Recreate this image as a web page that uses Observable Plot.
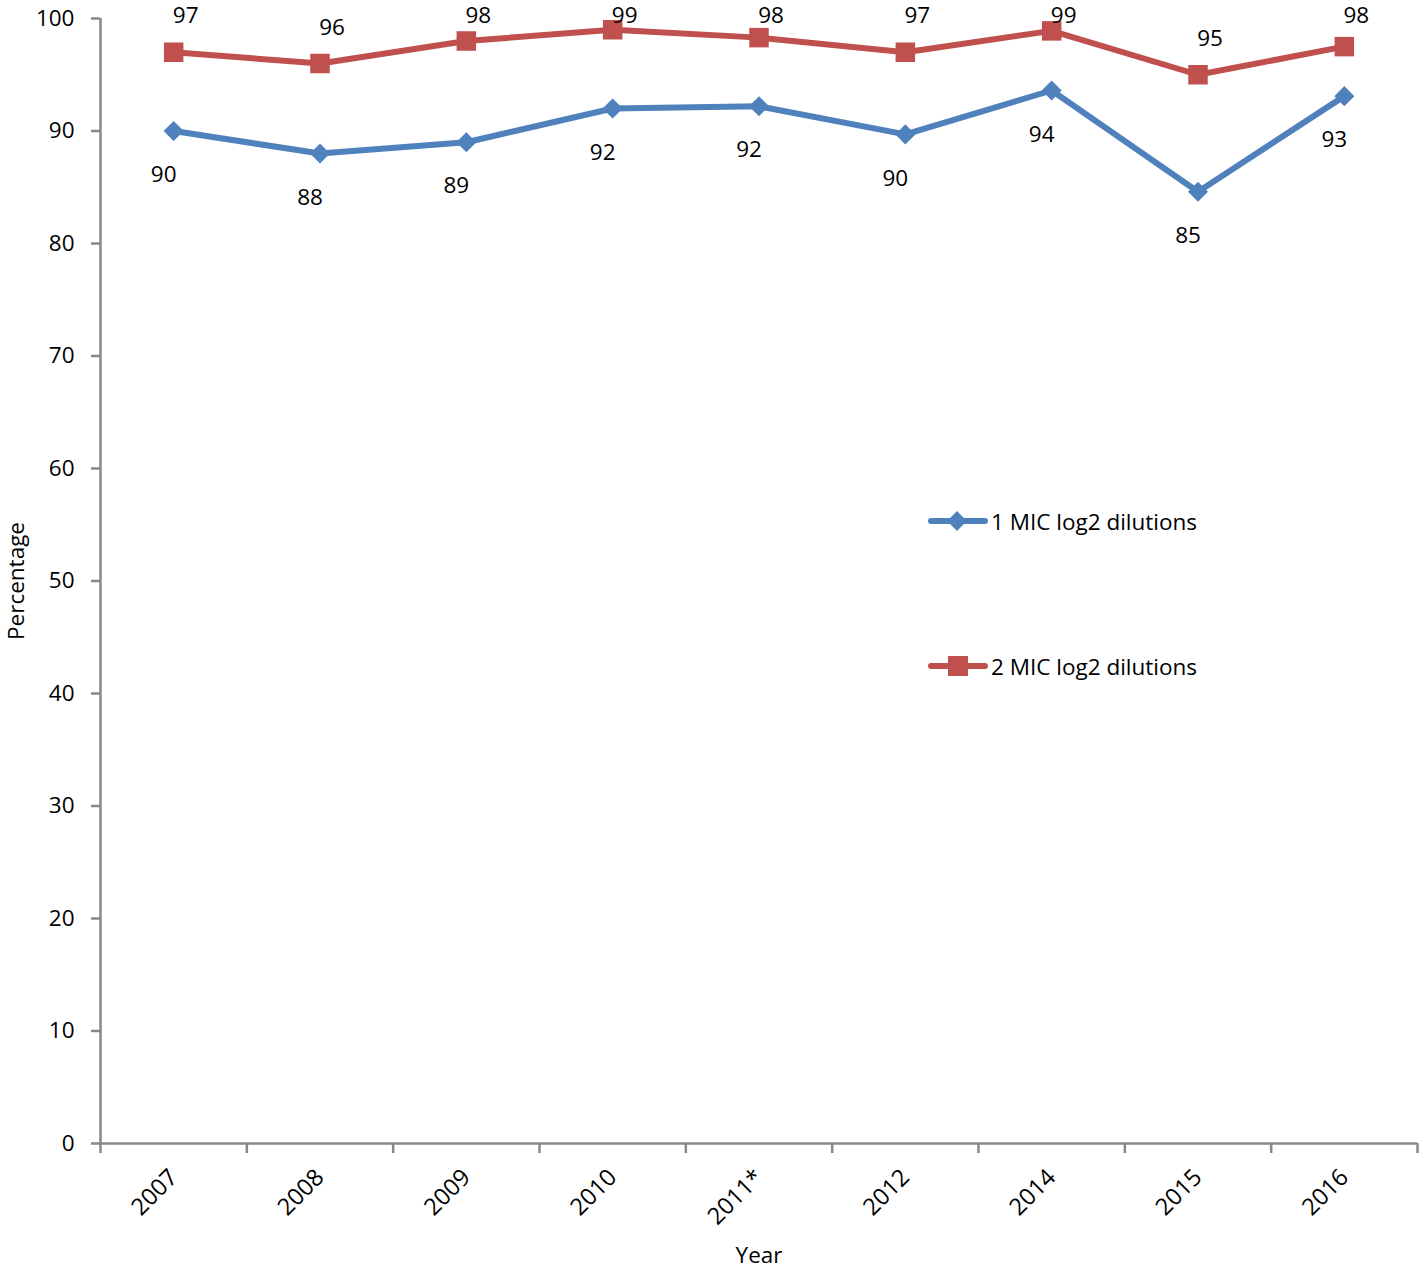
<!DOCTYPE html>
<html>
<head>
<meta charset="utf-8">
<script src="https://cdn.jsdelivr.net/npm/d3@7"></script>
<script src="https://cdn.jsdelivr.net/npm/@observablehq/plot@0.6"></script>
<style>
  html, body { margin: 0; padding: 0; background: #fff; }
  #wrap { position: relative; width: 1419px; height: 1271px; font-family: "Open Sans", sans-serif; overflow: hidden; }
  #legend { position: absolute; left: 928px; top: 505px; font-size: 22.5px; color: #000; }
  .lg { display: flex; align-items: center; height: 32px; }
  .lg svg { margin-right: 3px; }
</style>
</head>
<body>
<div id="wrap"><div id="chart"></div><div id="legend"></div></div>
<script>
const years = ["2007", "2008", "2009", "2010", "2011*", "2012", "2014", "2015", "2016"];
const mic1 = [90.0, 88.0, 89.0, 92.0, 92.2, 89.7, 93.6, 84.6, 93.1];
const mic2 = [97.0, 96.0, 98.0, 99.0, 98.3, 97.0, 98.9, 95.0, 97.5];
const seriesNames = ["1 MIC log2 dilutions", "2 MIC log2 dilutions"];
const colors = ["#4F81BD", "#C0504D"];
const yTicks = d3.range(0, 101, 10);

const rows1 = years.map((y, i) => ({i, year: y, v: mic1[i]}));
const rows2 = years.map((y, i) => ({i, year: y, v: mic2[i]}));
const idx = years.map((_, i) => i);
const bounds = d3.range(-0.5, years.length, 1);

const font = "Open Sans, sans-serif";
const fs = 22.5;
const plot = Plot.plot({
  width: 1419,
  height: 1271,
  marginLeft: 100,
  marginRight: 2,
  marginTop: 18,
  marginBottom: 128,
  style: {fontFamily: font, fontSize: fs + "px", color: "#000", background: "#fff"},
  x: {type: "linear", domain: [-0.5, years.length - 0.5]},
  y: {domain: [0, 100]},
  marks: [
    Plot.ruleY([0], {stroke: "#888", strokeWidth: 2.5, x1: -0.5, x2: years.length - 0.5}),
    Plot.ruleX([-0.5], {stroke: "#888", strokeWidth: 2.5}),
    Plot.axisY({ticks: yTicks, tickSize: 9, tickPadding: 17, stroke: "#888", strokeWidth: 2.5, fontSize: fs, label: null}),
    Plot.axisX({ticks: bounds, tickSize: 10, tickFormat: () => "", stroke: "#888", strokeWidth: 2.5, label: null}),
    Plot.axisX({ticks: idx, tickSize: 0, tickPadding: 30, tickRotate: -45, tickFormat: i => years[i], fontSize: 23.5, label: null}),
    Plot.text(["Percentage"], {frameAnchor: "left", textAnchor: "middle", dx: -84, rotate: -90, fontSize: fs, fill: "#000"}),
    Plot.text(["Year"], {frameAnchor: "bottom", textAnchor: "middle", dy: 119, dx: 0, fontSize: fs, fill: "#000"}),
    Plot.line(rows1, {x: "i", y: "v", stroke: colors[0], strokeWidth: 6}),
    Plot.line(rows2, {x: "i", y: "v", stroke: colors[1], strokeWidth: 6}),
    Plot.dot(rows1, {x: "i", y: "v", symbol: "square", r: 8, rotate: 45, fill: colors[0], stroke: "none"}),
    Plot.dot(rows2, {x: "i", y: "v", symbol: "square", r: 11, fill: colors[1], stroke: "none"}),
    Plot.text(rows1, {x: "i", y: "v", text: d => String(Math.round(d.v)), dy: 44, dx: -10, fontSize: fs, fill: "#000"}),
    Plot.text(rows2, {x: "i", y: "v", text: d => String(Math.round(d.v)), dy: -36, dx: 12, fontSize: fs, fill: "#000"})
  ]
});
document.getElementById("chart").appendChild(plot);

// keep the top value labels inside the chart area (as the original does)
const minTop = 16;
const textGroups = plot.querySelectorAll('g[aria-label="text"]');
const redLabels = textGroups[textGroups.length - 1];
const parseT = s => {
  const m = (s || "").match(/translate\(\s*([-\d.e]+)[ ,]+([-\d.e]+)\s*\)/);
  return m ? {m: m[0], x: +m[1], y: +m[2]} : null;
};
if (redLabels) {
  const g = parseT(redLabels.getAttribute("transform"));
  const gy = g ? g.y : 0;
  redLabels.querySelectorAll("text").forEach(t => {
    const tr = t.getAttribute("transform");
    const p = parseT(tr);
    if (p) {
      if (p.y + gy < minTop) t.setAttribute("transform", tr.replace(p.m, `translate(${p.x},${minTop - gy})`));
    } else if (t.hasAttribute("y")) {
      const y = +t.getAttribute("y");
      if (y + gy < minTop) t.setAttribute("y", minTop - gy);
    }
  });
}

// legend
const legend = document.getElementById("legend");
seriesNames.forEach((name, k) => {
  const row = document.createElement("div");
  row.className = "lg";
  row.style.marginTop = k === 0 ? "0px" : "113px";
  const marker = k === 0
    ? `<rect x="22" y="9" width="14" height="14" fill="${colors[0]}" transform="rotate(45 29 16)"/>`
    : `<rect x="20" y="6" width="20" height="20" fill="${colors[1]}"/>`;
  row.innerHTML = `<svg width="60" height="32"><line x1="3" y1="16" x2="57" y2="16" stroke="${colors[k]}" stroke-width="6" stroke-linecap="round"/>${marker}</svg><span>${name}</span>`;
  legend.appendChild(row);
});
</script>
</body>
</html>
